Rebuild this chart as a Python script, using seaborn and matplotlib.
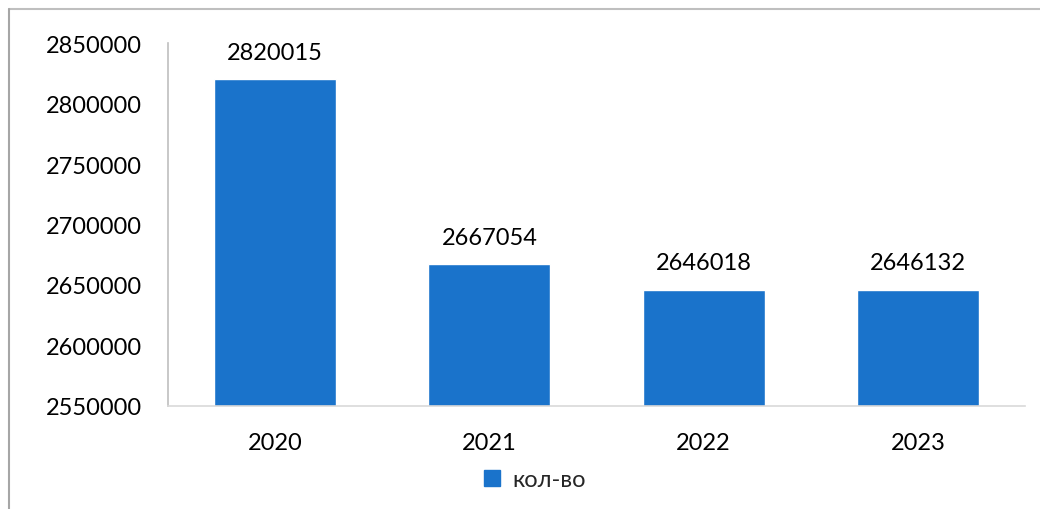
import matplotlib
matplotlib.use("Agg")
import matplotlib.pyplot as plt
from matplotlib.lines import Line2D
from matplotlib.patches import Patch
import seaborn as sns
import pandas as pd

years = ["2020", "2021", "2022", "2023"]
values = [2820015, 2667054, 2646018, 2646132]
series_name = "кол-во"
y_ticks = [2550000, 2600000, 2650000, 2700000, 2750000, 2800000, 2850000]

sns.set_theme(style="white")
plt.rcParams["font.family"] = ["Lato", "DejaVu Sans"]

df = pd.DataFrame({"year": years, "value": values})
bar_color = "#1A73CB"

fig = plt.figure(figsize=(10.4, 5.1), dpi=100)
ax = fig.add_axes([0.1615, 0.2020, 0.8241, 0.7117])
sns.barplot(data=df, x="year", y="value", color=bar_color, saturation=1,
            width=0.57, ax=ax)

ax.set_ylim(y_ticks[0], y_ticks[-1])
ax.set_yticks(y_ticks)
ax.set_yticklabels([str(t) for t in y_ticks])
ax.set_xlim(-0.5, 3.5)
ax.set_xlabel("")
ax.set_ylabel("")
ax.tick_params(axis="y", labelsize=17, length=0, pad=19, colors="#000000")
ax.tick_params(axis="x", labelsize=17, length=0, pad=19, colors="#000000")

for s in ["top", "right"]:
    ax.spines[s].set_visible(False)
ax.spines["left"].set_color("#BFBFBF")
ax.spines["left"].set_linewidth(1.2)
ax.spines["bottom"].set_color("#D9D9D9")
ax.spines["bottom"].set_linewidth(1.2)

for c in ax.containers:
    ax.bar_label(c, labels=[str(v) for v in values], padding=12,
                 fontsize=17, color="#000000")

handle = Patch(facecolor=bar_color, edgecolor=bar_color)
fig.legend([handle], [series_name], loc="center", bbox_to_anchor=(0.514, 0.057),
           frameon=False, fontsize=17, handlelength=0.7, handleheight=0.7,
           handletextpad=0.5)

# outer chart border (partially visible)
fig.add_artist(Line2D([0.0087, 1.0], [0.981, 0.981], transform=fig.transFigure,
                      color="#BFBFBF", linewidth=1.5))
fig.add_artist(Line2D([0.0087, 0.0087], [0.0, 0.981], transform=fig.transFigure,
                      color="#A6A6A6", linewidth=1.5))

fig.savefig("out.png", dpi=100, facecolor="white")
